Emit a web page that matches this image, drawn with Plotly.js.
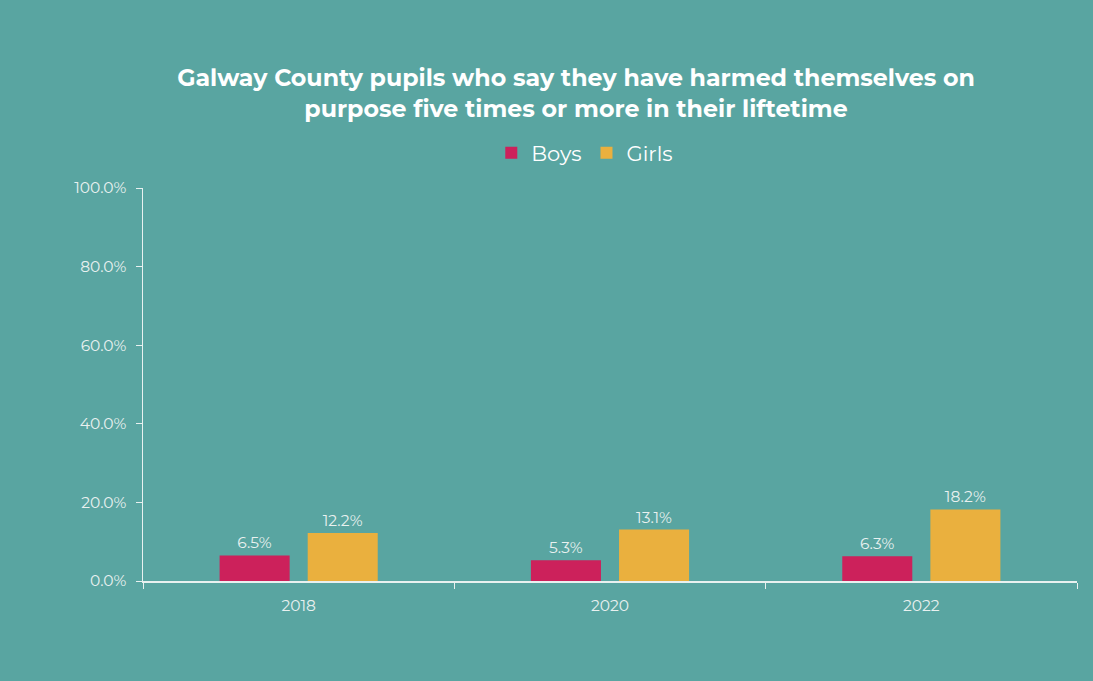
<!DOCTYPE html>
<html>
<head>
<meta charset="utf-8">
<script src="https://cdn.plot.ly/plotly-3.0.1.min.js"></script>
<style>
html,body{margin:0;padding:0;background:#59a5a1;}
#chart{width:1093px;height:681px;}
</style>
</head>
<body>
<div id="chart"></div>
<script>
const years = ['2018', '2020', '2022'];
const boys = [6.5, 5.3, 6.3];
const girls = [12.2, 13.1, 18.2];
const seriesNames = ['Boys', 'Girls'];
const titleText = 'Galway County pupils who say they have harmed themselves on<br>purpose five times or more in their liftetime';

const txtColor = '#e9f1f0';
const font = 'Montserrat, "Open Sans", sans-serif';

function labels(arr){ return arr.map(v => v.toFixed(1) + '%'); }

const traces = [
  {type:'bar', name:seriesNames[0], x:years, y:boys, marker:{color:'#cc215b'},
   text:labels(boys), textposition:'outside', cliponaxis:false,
   textfont:{color:txtColor, size:15.5, family:font}, hoverinfo:'skip'},
  {type:'bar', name:seriesNames[1], x:years, y:girls, marker:{color:'#eab03e'},
   text:labels(girls), textposition:'outside', cliponaxis:false,
   textfont:{color:txtColor, size:15.5, family:font}, hoverinfo:'skip'}
];

const layout = {
  width:1093, height:681,
  paper_bgcolor:'#59a5a1', plot_bgcolor:'#59a5a1',
  margin:{l:143, r:16, t:188, b:100},
  font:{family:font, color:txtColor},
  title:{text:titleText, x:0.527, xref:'container', xanchor:'center', y:0.874, yref:'container', yanchor:'middle',
         font:{family:font, size:23.7, color:'#ffffff', weight:'bold'}},
  barmode:'group', bargap:0.434, bargroupgap:0.205,
  showlegend:true,
  legend:{orientation:'h', x:0.473, xanchor:'center', y:1.089, yanchor:'middle',
          font:{size:21, color:'#ffffff', family:font}, bgcolor:'rgba(0,0,0,0)', traceorder:'normal', itemwidth:30},
  xaxis:{type:'category', tickson:'boundaries', ticks:'outside', ticklen:6, tickcolor:'#e9f1f0',
         showline:true, linecolor:'#e9f1f0', linewidth:1.5, showgrid:false, zeroline:false,
         ticklabelstandoff:10,
         tickfont:{size:15.5, color:txtColor, family:font}},
  yaxis:{range:[0,100], dtick:20, tick0:0, ticks:'outside', ticklen:6, tickcolor:'#e9f1f0',
         showline:true, linecolor:'#e9f1f0', linewidth:1.5, showgrid:false, zeroline:false,
         ticklabelstandoff:6,
         ticksuffix:'%', tickformat:'.1f', tickfont:{size:15.5, color:txtColor, family:font}}
};

Plotly.newPlot('chart', traces, layout, {displayModeBar:false, staticPlot:true});
</script>
</body>
</html>
